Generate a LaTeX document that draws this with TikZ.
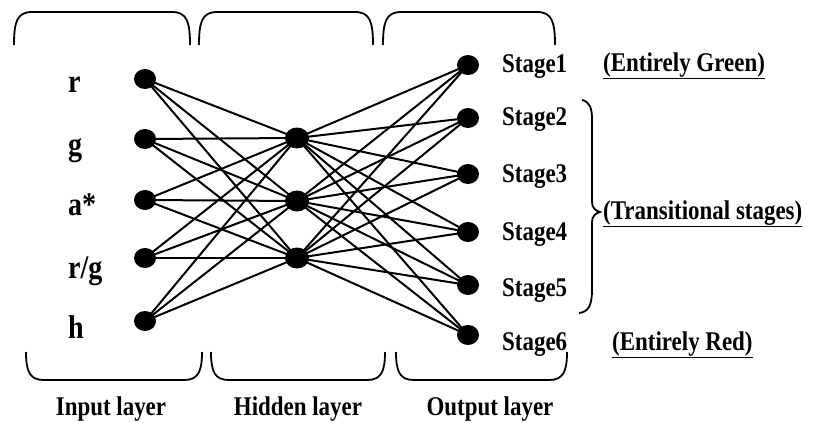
\documentclass[tikz,border=0pt]{standalone}
\usepackage{fontspec}
\setmainfont{Liberation Serif}[FakeStretch=0.85]
\usetikzlibrary{shapes.geometric}
\begin{document}
\begin{tikzpicture}[x=1pt,y=-1pt,
  dot/.style={ellipse,fill=black,inner sep=0pt,minimum width=22pt,minimum height=20pt},
  hdot/.style={ellipse,fill=black,inner sep=0pt,minimum width=24pt,minimum height=21pt},
  link/.style={line width=2pt},
  brace/.style={line width=1.8pt},
  inlab/.style={anchor=base west,inner sep=0pt,font=\bfseries\fontsize{33}{36}\selectfont},
  stlab/.style={anchor=base west,inner sep=0pt,font=\bfseries\fontsize{27}{30}\selectfont},
  laylab/.style={anchor=base,inner sep=0pt,font=\bfseries\fontsize{27}{30}\selectfont},
  note/.style={anchor=base west,inner sep=0pt,font=\bfseries\fontsize{27}{30}\selectfont}]
\useasboundingbox (0,0) rectangle (814,423);
% input nodes
\node[dot] (i1) at (145,79) {};
\node[dot] (i2) at (145,139) {};
\node[dot] (i3) at (145,200) {};
\node[dot] (i4) at (145,258) {};
\node[dot] (i5) at (145,321) {};
% hidden nodes
\node[hdot] (h1) at (297,138) {};
\node[hdot] (h2) at (297,201) {};
\node[hdot] (h3) at (297,258) {};
% output nodes
\node[dot] (o1) at (468,65) {};
\node[dot] (o2) at (468,118) {};
\node[dot] (o3) at (468,174) {};
\node[dot] (o4) at (468,232) {};
\node[dot] (o5) at (468,285) {};
\node[dot] (o6) at (468,335) {};
% connections
\foreach \i in {i1,i2,i3,i4,i5}
  \foreach \h in {h1,h2,h3}
    \draw[link] (\i.center) -- (\h.center);
\foreach \h in {h1,h2,h3}
  \foreach \o in {o1,o2,o3,o4,o5,o6}
    \draw[link] (\h.center) -- (\o.center);
% input labels
\node[inlab] (lr) at (68,92) {r};
\node[inlab] (lg) at (68,155) {g};
\node[inlab] (la) at (68,215) {a*};
\node[inlab] (lrg) at (68,278) {r/g};
\node[inlab] (lh) at (68,338) {h};
% stage labels
\node[stlab] (s1) at (502,72) {Stage1};
\node[stlab] (s2) at (502,125) {Stage2};
\node[stlab] (s3) at (502,182) {Stage3};
\node[stlab] (s4) at (502,240) {Stage4};
\node[stlab] (s5) at (502,296) {Stage5};
\node[stlab] (s6) at (502,350) {Stage6};
% notes
\node[note] (ng) at (603,71) {\underline{(Entirely Green)}};
\node[note] (nt) at (603,219) {\underline{(Transitional stages)}};
\node[note] (nr) at (612,350) {\underline{(Entirely Red)}};
% layer labels
\node[laylab] (li) at (111,415) {Input layer};
\node[laylab] (lhd) at (298,415) {Hidden layer};
\node[laylab] (lo) at (490,415) {Output layer};
% top braces
\foreach \a/\b in {14/190,199/373,383/555}
  \draw[brace] (\a,45) .. controls (\a,22) and (\a+3,12) .. (\a+18,12) -- (\b-18,12)
     .. controls (\b-3,12) and (\b,22) .. (\b,45);
% bottom braces
\foreach \a/\b in {26/202,211/385,396/567}
  \draw[brace] (\a,352) .. controls (\a,372) and (\a+4,380) .. (\a+18,380) -- (\b-18,380)
     .. controls (\b-4,380) and (\b,372) .. (\b,352);
% right brace
\draw[brace] (582,100) .. controls (590,102) and (592,108) .. (592,120) -- (592,202)
   .. controls (592,208) and (596,211) .. (600,212)
   .. controls (596,213) and (592,216) .. (592,222) -- (592,290)
   .. controls (592,306) and (588,312) .. (579,313);
\end{tikzpicture}
\end{document}
